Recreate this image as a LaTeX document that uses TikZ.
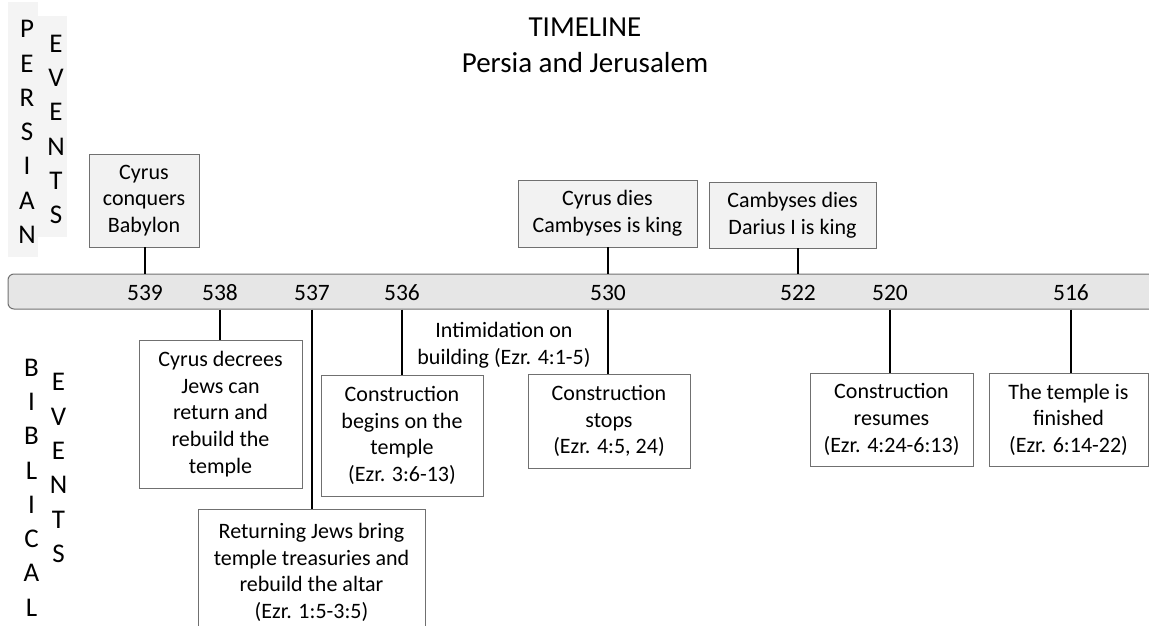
\documentclass[tikz,border=0pt]{standalone}
\usepackage{fontspec}
\setmainfont{Carlito}
\usetikzlibrary{positioning}

\definecolor{barfill}{HTML}{E6E6E6}
\definecolor{boxfill}{HTML}{F2F2F2}
\definecolor{sidefill}{HTML}{F4F4F4}
\definecolor{edgegray}{HTML}{707070}
\newcommand{\evtfont}{\fontsize{22}{26.6}\selectfont}

\begin{document}
\begin{tikzpicture}[x=1pt, y=-1pt,
            persianbox/.style={draw=edgegray, fill=boxfill, line width=0.9pt, align=center, inner sep=0pt, font=\evtfont},
            biblebox/.style={draw=edgegray, fill=white, line width=0.9pt, align=center, inner sep=0pt, font=\evtfont},
            stem/.style={line width=2.8pt},
            year/.style={inner sep=0pt, font=\fontsize{23.5}{26}\selectfont},
            letters/.style={align=center, inner sep=0pt, font=\fontsize{27}{34.3}\selectfont},
            sideband/.style={fill=sidefill, draw=none, inner sep=0pt}]

        \useasboundingbox (0,0) rectangle (1149,626);
        \clip (0,0) rectangle (1149,626);

        % title
        \node[align=center, font=\fontsize{29}{36}\selectfont] (title) at (585,45) {TIMELINE\\Persia and Jerusalem};

        % side headings
        \node[sideband, minimum width=30pt, minimum height=255pt] (persianband) at (23,129.5) {};
        \node[sideband, minimum width=29pt, minimum height=221pt] (eventsband) at (52.5,126.5) {};
        \node[letters] (persian) at (27,132) {P\\E\\R\\S\\I\\A\\N};
        \node[letters] (pevents) at (56,129.5) {E\\V\\E\\N\\T\\S};
        \node[letters] (biblical) at (31.5,487.5) {B\\I\\B\\L\\I\\C\\A\\L};
        \node[letters] (bevents) at (58.5,468) {E\\V\\E\\N\\T\\S};

        % the bar and its years
        \node[draw=edgegray, fill=barfill, line width=1pt, rounded corners=6pt,
              minimum width=1160pt, minimum height=35pt] (bar) at (588,291.5) {};
        \node[year] (y539) at (145,293) {539};
        \node[year] (y538) at (220,293) {538};
        \node[year] (y537) at (312,293) {537};
        \node[year] (y536) at (402,293) {536};
        \node[year] (y530) at (608,293) {530};
        \node[year] (y522) at (798,293) {522};
        \node[year] (y520) at (890,293) {520};
        \node[year] (y516) at (1071,293) {516};

        % persian events
        \node[persianbox, minimum width=110pt, minimum height=93pt] (pCyrus) at (144,200.5) {Cyrus\\conquers\\Babylon};
        \node[persianbox, minimum width=179pt, minimum height=67pt] (pCyrusDies) at (607.5,213.5) {Cyrus dies\\Cambyses is king};
        \node[persianbox, minimum width=167pt, minimum height=66pt] (pCambyses) at (792.5,215) {Cambyses dies\\Darius I is king};

        \draw[stem] (pCyrus.south -| y539) -- (bar.north -| y539);
        \draw[stem] (pCyrusDies.south -| y530) -- (bar.north -| y530);
        \draw[stem] (pCambyses.south -| y522) -- (bar.north -| y522);

        % biblical events
        \node[biblebox, minimum width=163pt, minimum height=148pt] (bDecree) at (220.5,414) {Cyrus decrees\\Jews can\\return and\\rebuild the\\temple};
        \node[biblebox, minimum width=227pt, minimum height=127pt] (bReturn) at (311.5,572.5) {Returning Jews bring\\temple treasuries and\\rebuild the altar\\(Ezr. 1:5-3:5)};
        \node[biblebox, minimum width=162pt, minimum height=121pt] (bBegins) at (402,435.5) {Construction\\begins on the\\temple\\(Ezr. 3:6-13)};
        \node[biblebox, minimum width=162pt, minimum height=94pt] (bStops) at (609,421) {Construction\\stops\\(Ezr. 4:5, 24)};
        \node[biblebox, minimum width=163pt, minimum height=93pt] (bResumes) at (891.5,419.5) {Construction\\resumes\\(Ezr. 4:24-6:13)};
        \node[biblebox, minimum width=159pt, minimum height=93pt] (bFinished) at (1068.5,419.5) {The temple is\\finished\\(Ezr. 6:14-22)};
        \node[align=center, font=\evtfont] (intim) at (504,345) {Intimidation on\\building (Ezr. 4:1-5)};

        \draw[stem] (bar.south -| y538) -- (bDecree.north -| y538);
        \draw[stem] (bar.south -| y537) -- (bReturn.north -| y537);
        \draw[stem] (bar.south -| y536) -- (bBegins.north -| y536);
        \draw[stem] (bar.south -| y530) -- (bStops.north -| y530);
        \draw[stem] (bar.south -| y520) -- (bResumes.north -| y520);
        \draw[stem] (bar.south -| y516) -- (bFinished.north -| y516);

    \end{tikzpicture}
\end{document}
